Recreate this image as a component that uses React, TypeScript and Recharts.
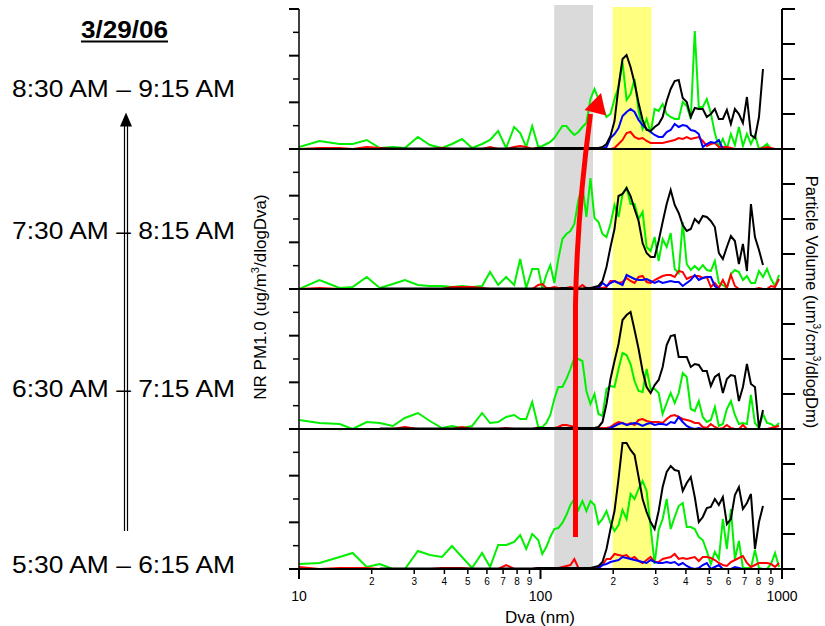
import { LineChart, Line, XAxis, YAxis, ReferenceArea } from 'recharts';

const _ = null;

// bin diameters (nm), log spaced; coarse below ~100 nm, fine above
const diameters = [
  10, 12.16, 14.73, 16.68, 19.07, 21.6, 24.46, 27.44, 31.07, 34.84, 39.08, 42.99, 47.32, 52.06, 57.29, 61.83,
  66.77, 72.08, 77.8, 82.4, 87.27, 92.41,
  97.9, 101.7, 105.7, 109.8, 114.1, 118.5, 123.2, 128.0, 133.0, 138.1, 143.5, 149.1, 154.9, 161.0, 167.3, 173.8,
  180.6, 187.6, 194.9, 202.5, 210.4, 218.6, 227.2, 236.0, 245.2, 254.8, 264.7, 275.0, 285.8, 296.9, 308.5, 320.5,
  333.0, 346.0, 359.5, 373.5, 388.1, 403.2, 419.0, 435.3, 452.3, 469.9, 488.2, 507.3, 527.1, 547.6, 569.0, 591.2,
  614.2, 638.2, 663.1, 688.9, 715.8, 743.7, 772.7, 802.9, 834.2, 866.7, 900.5, 935.6, 972.1,
];

// 8:30 - 9:15
const green0830 = [
  2, 8, 5, 5, 9, 1, 2, 1, 12, 4, 1, 5, 10, 1, 5, 9, 18, 1, 22, 16, 2, 23,
  2, 3, 5, 7, 11, 17, 23, 23, 18, 14, 17, 22, 26, 50, 60, 50, 42, 32, 35, 50, 62, 87, 49, 55, 70, 38, 20, 30, 16,
  40, 38, 45, 35, 32, 30, 30, 47, 43, 30, 118, 42, 42, 50, 36, 16, 2, 10, 0, 15, 4, 22, 3, 15, 5, 14, 0, 2, 5, 0, 0, 0,
];
const black0830 = [
  _, _, _, _, _, 0.5, 0.5, 0.5, 0.5, 0.5, 0.5, 0.5, 0.5, 0.5, 0.5, 0.5, 0.5, 0.5, 0.5, 0.5, 0.5, 0.5,
  1, 1, 1, 1, 1, 1, 1, 1, 1, 1, 1, 1, 1, 1, 1, 1, 2, 5, 13, 28, 62, 90, 94, 82, 66, 46, 29, 19, 18, 22, 25, 32, 48,
  60, 68, 69, 51, 47, 32, 41, 40, 40, 32, 35, 40, 30, 30, 39, 25, 40, 35, 26, 52, 14, 11, 32, 80, _, _, _, _,
];
const red0830 = [
  0, 1, 1, 0, 2, 1, 0, 0, 0, 0, 1, 0, 0, 0, 0, 2, 0, 0, 2, 3, 2, 0,
  1, 0, 0, 1, 0, 0, 1, 1, 0, 0, 1, 1, 0, 0, 1, 0, 0, 0, 0, 1, 5, 9, 16, 17, 12, 10, 11, 8, 6, 6, 6, 6, 7, 8, 9, 11,
  10, 12, 10, 11, 12, 8, 3, 5, 6, 2, 2, 2, 1, 0, 0, 0, 0, 0, 0, 0, 1, 2, 1, 0, 0,
];
const blue0830 = [
  _, _, _, _, _, _, _, _, _, _, _, _, _, _, _, _, _, _, _, _, _, _,
  _, _, _, _, _, _, _, _, _, _, _, _, _, _, _, _, 0, 2, 11, 15, 21, 33, 37, 40, 37, 29, 24, 20, 17, 14, 12, 12, 17,
  19, 25, 22, 24, 23, 19, 18, 15, 2, 5, 7, 6, 9, 0, 0, 0, _, _, _, _, _, _, _, _, _, _, _, _,
];

// 7:30 - 8:15
const green0730 = [
  0, 9, 1, 2, 12, 1, 5, 9, 4, 3, 3, 2, 3, 2, 3, 17, 4, 12, 4, 30, 1, 20,
  20, 1, 14, 24, 6, 30, 50, 55, 58, 65, 89, 104, 72, 111, 71, 67, 55, 52, 65, 84, 72, 95, 101, 85, 85, 70, 77, 42,
  38, 52, 28, 50, 42, 56, 20, 16, 67, 25, 19, 23, 19, 24, 19, 18, 28, 6, 4, 1, 15, 19, 17, 9, 13, 6, 6, 18, 12, 20,
  10, 3, 14,
];
const black0730 = [
  _, _, _, _, _, 0.5, 0.5, 0.5, 0.5, 0.5, 0.5, 0.5, 0.5, 0.5, 0.5, 0.5, 0.5, 0.5, 0.5, 0.5, 0.5, 0.5,
  0.5, 0.5, 0.5, 0.5, 0.5, 0.5, 1, 1, 0.5, 0.5, 0.5, 0.5, 1, 1, 2, 3, 8, 22, 42, 60, 93, 95, 101, 93, 80, 68, 46,
  36, 32, 32, 48, 67, 85, 99, 84, 76, 64, 58, 60, 70, 66, 73, 72, 68, 62, 36, 30, 42, 53, 48, 25, 45, 18, 85, 52,
  39, 24, _, _, _, _,
];
const red0730 = [
  0, 1, 0, 0, 0, 0, 0, 0, 0, 0, 0, 2, 2, 2, 1, 0, 0, 0, 0, 0, 0, 0,
  4, 5, 1, 1, 2, 1, 1, 1, 2, 1, 1, 4, 1, 0, 1, 1, 1, 2, 8, 8, 6, 7, 11, 8, 6, 12, 13, 7, 6, 9, 11, 13, 14, 14, 12,
  18, 17, 10, 12, 13, 13, 11, 12, 2, 6, 1, 9, 1, 14, 3, 0, 0, 0, 0, 0, 1, 0, 0, 3, 2, 10,
];
const blue0730 = [
  _, _, _, _, _, _, _, _, _, _, _, _, _, _, _, _, _, _, _, _, _, _,
  _, _, _, _, _, _, _, _, _, _, _, _, _, _, 0, 1, 6, 3, 6, 8, 6, 4, 14, 12, 10, 9, 9, 10, 8, 6, 8, 6, 7, 8, 7, 7,
  3, 6, 9, 14, 9, 11, 12, 12, 3, 0, 0, 0, 0, _, _, _, _, _, _, _, _, _, _, _, _,
];

// 6:30 - 7:15
const green0630 = [
  9, 6, 5, 0, 7, 6, 3, 11, 16, 8, 1, 3, 1, 3, 16, 6, 7, 12, 14, 10, 10, 27,
  2, 2, 6, 14, 30, 42, 42, 50, 60, 71, 70, 68, 38, 25, 35, 15, 13, 40, 43, 42, 60, 76, 74, 65, 48, 38, 37, 60, 40,
  40, 36, 15, 26, 36, 26, 36, 56, 52, 20, 18, 28, 12, 7, 9, 22, 3, 5, 20, 28, 14, 5, 6, 5, 34, 6, 1, 15, 6, 5, 2, 6,
];
const black0630 = [
  _, _, _, _, _, 0.5, 0.5, 0.5, 0.5, 0.5, 0.5, 0.5, 0.5, 0.5, 0.5, 0.5, 0.5, 0.5, 0.5, 0.5, 0.5, 0.5,
  1, 1, 1, 1, 1, 1, 1, 1, 1, 2, 1, 1, 1, 1, 1, 2, 7, 25, 50, 68, 85, 109, 114, 117, 99, 80, 58, 42, 36, 44, 49, 62,
  84, 93, 94, 72, 72, 72, 62, 65, 64, 58, 58, 43, 52, 55, 36, 50, 54, 53, 28, 42, 65, 45, 42, 1, 19, _, _, _, _,
];
const red0630 = [
  0, 0, 0, 0, 0, 0, 0, 2, 0, 0, 0, 0, 2, 0, 0, 0, 0, 1, 0, 0, 0, 0,
  1, 1, 1, 1, 1, 2, 4, 4, 3, 2, 1, 1, 1, 1, 1, 1, 1, 1, 2, 5, 7, 6, 4, 6, 4, 9, 10, 8, 7, 7, 7, 6, 10, 13, 14, 12,
  10, 9, 8, 6, 6, 2, 1, 5, 2, 0, 1, 4, 1, 0, 0, 4, 0, 0, 0, 0, 0, 0, 1, 2, 3,
];
const blue0630 = [
  _, _, _, _, _, _, _, _, _, _, _, _, _, _, _, _, _, _, _, _, _, _,
  _, _, _, _, _, _, _, _, _, _, _, _, _, _, _, _, _, 0, 1, 3, 5, 6, 4, 5, 6, 5, 3, 5, 6, 4, 5, 5, 4, 7, 6, 12, 7,
  3, 1, 0, 1, 0, 0, 0, 0, _, _, _, _, _, _, _, _, _, _, _, _, _, _, _, _,
];

// 5:30 - 6:15
const green0530 = [
  5, 6, 12, 16, 2, 5, 0, 0, 18, 14, 12, 23, 12, 1, 16, 2, 24, 24, 27, 34, 20, 35,
  29, 15, 22, 32, 40, 41, 46, 54, 64, 70, 59, 68, 58, 68, 64, 45, 50, 58, 46, 38, 44, 59, 50, 75, 70, 80, 88, 78,
  42, 5, 39, 50, 70, 40, 52, 63, 66, 42, 42, 40, 32, 29, 18, 5, 17, 10, 50, 20, 60, 10, 28, 1, 1, 1, 19, 1, 0, 0,
  5, 16, 2,
];
const black0530 = [
  _, _, _, _, _, 0.5, 0.5, 0.5, 0.5, 0.5, 0.5, 0.5, 0.5, 0.5, 0.5, 0.5, 0.5, 0.5, 0.5, 0.5, 0.5, 0.5,
  1, 1, 1, 1, 1, 1, 1, 1, 1, 1, 1, 1, 1, 1, 2, 3, 7, 20, 40, 58, 90, 126, 126, 119, 114, 92, 70, 57, 47, 40, 58,
  82, 97, 103, 99, 98, 78, 86, 92, 72, 47, 52, 61, 62, 70, 64, 72, 45, 50, 74, 82, 60, 66, 75, 20, 47, 63, _, _, _, _,
];
const red0530 = [
  2, 0, 1, 1, 1, 0, 0, 0, 0, 0, 1, 1, 1, 0, 0, 0, 0, 4, 0, 0, 0, 0,
  1, 1, 1, 1, 1, 1, 2, 3, 4, 10, 1, 1, 1, 1, 1, 1, 4, 10, 10, 15, 14, 13, 14, 10, 12, 8, 6, 9, 12, 7, 7, 10, 11,
  12, 15, 10, 11, 10, 11, 12, 8, 12, 12, 11, 9, 6, 4, 3, 7, 9, 11, 13, 6, 2, 4, 6, 6, 6, 5, 2, 6,
];
const blue0530 = [
  _, _, _, _, _, _, _, _, _, _, _, _, _, _, _, _, _, _, _, _, _, _,
  _, _, _, _, _, _, _, _, _, _, _, _, _, _, 0, 1, 4, 5, 7, 8, 9, 12, 11, 10, 9, 8, 7, 6, 9, 7, 6, 6, 7, 6, 7, 4,
  6, 3, 1, 0, 1, 4, 6, 0, 2, 4, 0, 0, 0, 2, 1, 0, _, _, _, _, _, _, _, _, _,
];

const panels = [
  { green: green0830, black: black0830, red: red0830, blue: blue0830 },
  { green: green0730, black: black0730, red: red0730, blue: blue0730 },
  { green: green0630, black: black0630, red: red0630, blue: blue0630 },
  { green: green0530, black: black0530, red: red0530, blue: blue0530 },
];

const timeLabels = ['8:30 AM \u2013 9:15 AM', '7:30 AM \u2013 8:15 AM', '6:30 AM \u2013 7:15 AM', '5:30 AM \u2013 6:15 AM'];
const timeBaselines = [97, 239, 397, 573];

const leftTicks = [0, 23.33, 46.67, 70, 93.33, 116.67, 140];
const rightTicks = [0, 35, 70, 105, 140];
const xTicks = [10, 20, 30, 40, 50, 60, 70, 80, 90, 100, 200, 300, 400, 500, 600, 700, 800, 900, 1000];
const majorX = [10, 100, 1000];
const grayBand = [114, 165];
const yellowBand = [199, 288];

const FONT = '"Liberation Sans", Arial, sans-serif';

const LeftTick = (props: any) => {
  const { x, y, payload } = props;
  const r = payload.value / 46.667;
  const major = Math.abs(r - Math.round(r)) < 0.02;
  return <line x1={x - (major ? 10 : 6)} x2={x} y1={y} y2={y} stroke="#000" strokeWidth={major ? 2 : 1.5} />;
};

const RightTick = (props: any) => {
  const { x, y } = props;
  return <line x1={x} x2={x + 13} y1={y} y2={y} stroke="#000" strokeWidth={2} />;
};

const BottomTick = (props: any) => {
  const { x, y, payload } = props;
  const v = payload.value;
  const major = majorX.includes(v);
  const lead = Math.round(v / Math.pow(10, Math.floor(Math.log10(v) + 1e-9)));
  return (
    <g>
      <line x1={x} x2={x} y1={y} y2={y + (major ? 10 : 5)} stroke="#000" strokeWidth={major ? 2 : 1.5} />
      <text x={x} y={y + (major ? 32 : 16)} textAnchor="middle" fontSize={major ? 14 : 10} fontFamily={FONT} fill="#000">
        {major ? String(v) : String(lead)}
      </text>
    </g>
  );
};

const Panel = ({ index }: { index: number }) => {
  const s = panels[index];
  const last = index === 3;
  const rows = diameters.map((d, i) => ({ d, green: s.green[i], black: s.black[i], red: s.red[i], blue: s.blue[i] }));
  const xH = last ? 50 : 2;
  return (
    <div style={{ position: 'absolute', left: 0, top: 4 + 140 * index, zIndex: 5 - index }}>
      <LineChart width={825} height={145 + xH} data={rows} margin={{ top: 5, right: 23, bottom: 0, left: 279 }}>
        <ReferenceArea
          yAxisId="l"
          x1={grayBand[0]}
          x2={grayBand[1]}
          y1={0}
          y2={index === 0 ? 144 : 140}
          fill="#dadada"
          fillOpacity={1}
          stroke="none"
          ifOverflow="visible"
        />
        <ReferenceArea
          yAxisId="l"
          x1={yellowBand[0]}
          x2={yellowBand[1]}
          y1={0}
          y2={index === 0 ? 142 : 140}
          fill="#ffff80"
          fillOpacity={1}
          stroke="none"
          ifOverflow="visible"
        />
        <XAxis
          dataKey="d"
          type="number"
          scale="log"
          domain={[10, 1000]}
          allowDataOverflow
          ticks={xTicks}
          interval={0}
          height={xH}
          tickSize={0}
          tickMargin={0}
          tickLine={false}
          tick={last ? BottomTick : false}
          axisLine={{ stroke: '#000', strokeWidth: 2 }}
        />
        <YAxis
          yAxisId="l"
          orientation="left"
          width={20}
          domain={[0, 140]}
          allowDataOverflow
          ticks={leftTicks}
          interval={0}
          tickSize={0}
          tickMargin={0}
          tickLine={false}
          tick={LeftTick}
          axisLine={{ stroke: '#000', strokeWidth: 1.5 }}
        />
        <YAxis
          yAxisId="r"
          orientation="right"
          width={20}
          domain={[0, 140]}
          allowDataOverflow
          ticks={rightTicks}
          interval={0}
          tickSize={0}
          tickMargin={0}
          tickLine={false}
          tick={RightTick}
          axisLine={{ stroke: '#000', strokeWidth: 2 }}
        />
        <Line yAxisId="l" dataKey="green" stroke="#00f000" strokeWidth={2} dot={false} isAnimationActive={false} />
        <Line yAxisId="l" dataKey="red" stroke="#ff0000" strokeWidth={2} dot={false} isAnimationActive={false} />
        <Line yAxisId="l" dataKey="blue" stroke="#0000ff" strokeWidth={2} dot={false} isAnimationActive={false} />
        <Line yAxisId="l" dataKey="black" stroke="#000000" strokeWidth={2} dot={false} isAnimationActive={false} />
      </LineChart>
    </div>
  );
};

const App = () => {
  return (
    <div style={{ position: 'absolute', left: 0, top: 0, width: 825, height: 626, overflow: 'hidden', background: '#fff', fontFamily: FONT }}>
      {[0, 1, 2, 3].map((i) => (
        <Panel key={i} index={i} />
      ))}
      <svg width={825} height={626} style={{ position: 'absolute', left: 0, top: 0, zIndex: 10, pointerEvents: 'none' }}>
        <text x={81} y={37.5} fontSize={24} fontWeight="bold" fontFamily={FONT} textLength={87} lengthAdjust="spacingAndGlyphs">
          3/29/06
        </text>
        <line x1={81} x2={168} y1={41.5} y2={41.5} stroke="#000" strokeWidth={2} />
        {timeLabels.map((t, i) => (
          <text key={t} x={12} y={timeBaselines[i]} fontSize={24} fontFamily={FONT} textLength={223} lengthAdjust="spacingAndGlyphs">
            {t}
          </text>
        ))}
        {/* time arrow */}
        <line x1={124.5} x2={124.5} y1={124} y2={531} stroke="#000" strokeWidth={1.2} />
        <line x1={127.5} x2={127.5} y1={124} y2={531} stroke="#000" strokeWidth={1.2} />
        <polygon points="126,112.5 120,126.5 132,126.5" fill="#000" />

        <text transform="translate(266,297) rotate(-90)" textAnchor="middle" fontSize={17} fontFamily={FONT}>
          NR PM1.0 (ug/m<tspan dy={-7} fontSize={11}>3</tspan>
          <tspan dy={7}>/dlogDva)</tspan>
        </text>
        <text transform="translate(806,302) rotate(90)" textAnchor="middle" fontSize={16.5} fontFamily={FONT}>
          Particle Volume (um<tspan dy={-7} fontSize={10}>3</tspan>
          <tspan dy={7}>/cm</tspan>
          <tspan dy={-7} fontSize={10}>3</tspan>
          <tspan dy={7}>/dlogDm)</tspan>
        </text>
        <text x={540} y={623} textAnchor="middle" fontSize={16} fontFamily={FONT} textLength={70} lengthAdjust="spacingAndGlyphs">
          Dva (nm)
        </text>

        {/* growth arrow */}
        <path d="M575.5 537 L575.5 305 Q577 215 590.5 114" stroke="#ff0000" strokeWidth={5} fill="none" />
        <polygon points="601,93 584.5,110 606,115.5" fill="#ff0000" />
      </svg>
    </div>
  );
};

export default App;
